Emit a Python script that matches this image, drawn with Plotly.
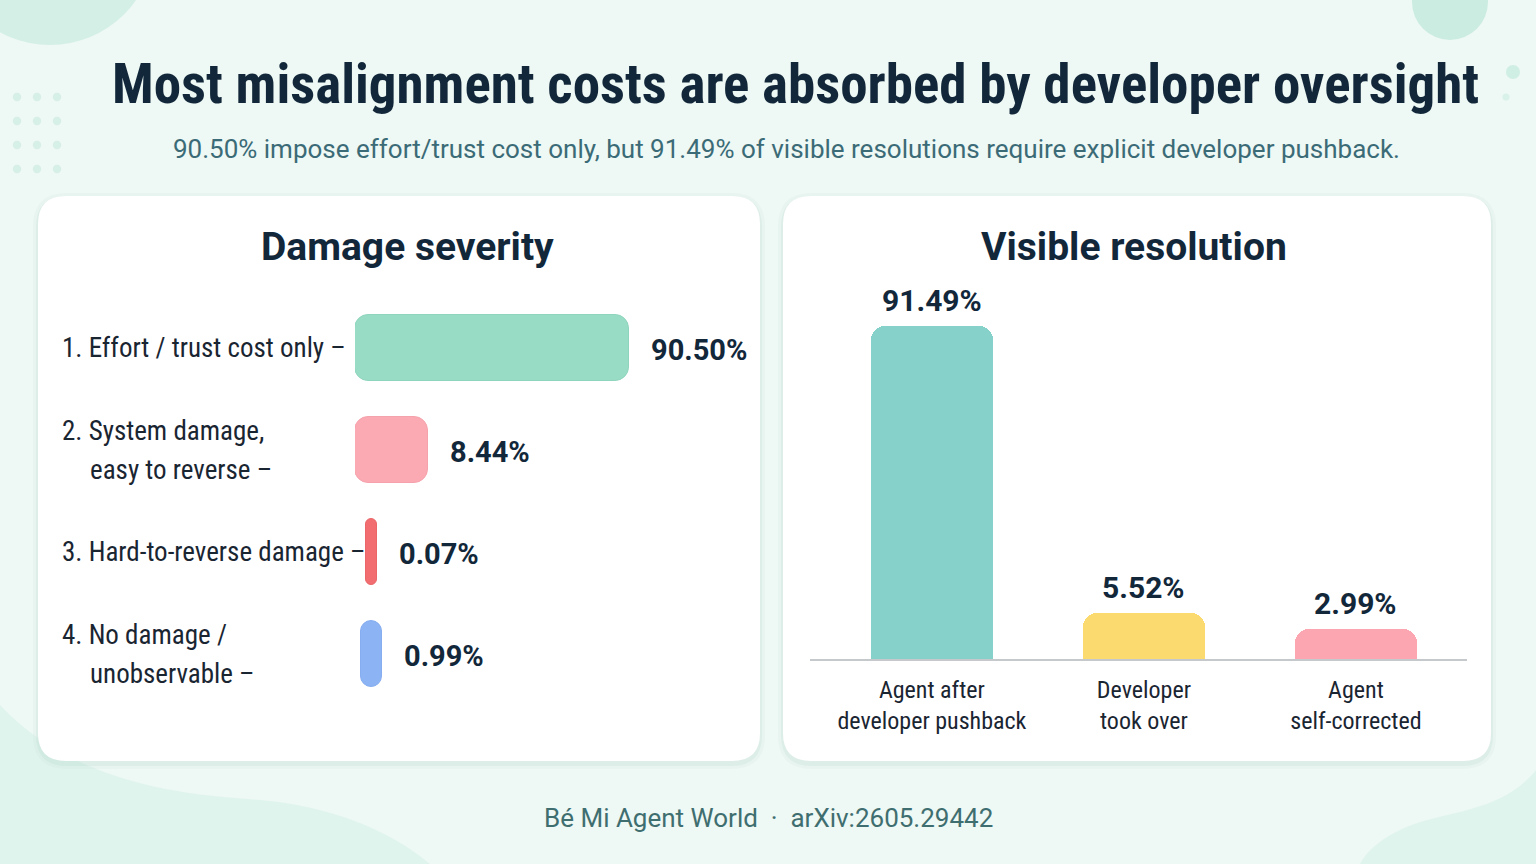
import plotly.graph_objects as go

W, H = 1536, 864

# ---------------- data ----------------
TITLE = "Most misalignment costs are absorbed by developer oversight"
SUBTITLE = ("90.50% impose effort/trust cost only, but 91.49% of visible "
            "resolutions require explicit developer pushback.")
FOOTER = "Bé Mi Agent World  ·  arXiv:2605.29442"
LEFT_TITLE = "Damage severity"
RIGHT_TITLE = "Visible resolution"

severity_labels = [
    ["1. Effort / trust cost only –"],
    ["2. System damage,", "easy to reverse –"],
    ["3. Hard-to-reverse damage –"],
    ["4. No damage /", "unobservable –"],
]
severity_values = [90.50, 8.44, 0.07, 0.99]
severity_colors = ["#99dcc5", "#fbaab4", "#f16d6f", "#8cb3f4"]
severity_edges = ["#8fd5bc", "#f6a2ac", "#ea6668", "#86adf0"]

resolution_labels = ["Agent after<br>developer pushback", "Developer<br>took over", "Agent<br>self-corrected"]
resolution_values = [91.49, 5.52, 2.99]
resolution_colors = ["#86d1ca", "#fbdb6f", "#fba6b1"]

# ---------------- style ----------------
BG = "#eef8f4"
DARK = "#12283a"
TEAL = "#3b6b77"
COND = "Roboto Condensed, Roboto, sans-serif"
REG = "Roboto, Inter, sans-serif"
SEV_EXP, SEV_FLOOR, SEV_SLOT = 0.56, 0.5, 1.5   # compressed display scale, as in the original
RES_EXP = 0.705
XMAX = 17.5


def px(x):
    return x / W


def py(y):
    return 1 - y / H


def rr_path(x0, y0, x1, y1, r):
    rx, ry = r / W, r / H
    X0, X1, Y0, Y1 = px(x0), px(x1), py(y0), py(y1)  # Y0 top, Y1 bottom
    return (f"M {X0+rx},{Y0} L {X1-rx},{Y0} Q {X1},{Y0} {X1},{Y0-ry} "
            f"L {X1},{Y1+ry} Q {X1},{Y1} {X1-rx},{Y1} L {X0+rx},{Y1} "
            f"Q {X0},{Y1} {X0},{Y1+ry} L {X0},{Y0-ry} Q {X0},{Y0} {X0+rx},{Y0} Z")


def circle(cx, cy, r, color):
    return dict(type="circle", xref="paper", yref="paper", layer="below",
                x0=px(cx - r), x1=px(cx + r), y0=py(cy + r), y1=py(cy - r),
                fillcolor=color, line=dict(width=0))


shapes = []
# background decorations
shapes.append(dict(type="path", xref="paper", yref="paper", layer="below",
                   path=f"M 0,{py(705)} C {px(80)},{py(790)} {px(200)},{py(795)} {px(260)},{py(800)} "
                        f"C {px(330)},{py(806)} {px(390)},{py(830)} {px(430)},{py(864)} L 0,0 Z",
                   fillcolor="#e0f4ee", line=dict(width=0)))
shapes.append(dict(type="path", xref="paper", yref="paper", layer="below",
                   path=f"M {px(1536)},{py(770)} C {px(1500)},{py(815)} {px(1440)},{py(810)} {px(1400)},{py(830)} "
                        f"C {px(1375)},{py(842)} {px(1365)},{py(855)} {px(1360)},{py(864)} L 1,0 Z",
                   fillcolor="#e0f4ee", line=dict(width=0)))
shapes.append(circle(50, -60, 105, "#d4efe6"))
shapes.append(circle(1450, 2, 38, "#cbece1"))
shapes.append(circle(1513, 72, 7, "#cfeee4"))
shapes.append(circle(1506, 97, 3.5, "#d8f1e9"))
for gx in (17, 37, 57):
    for gy in (97, 121, 145, 169):
        shapes.append(circle(gx, gy, 4.2, "#d6efe7"))

# panels with a soft shadow
for (x0, x1) in ((38, 760), (783, 1491)):
    for k, a in ((6, 0.05), (3, 0.08)):
        shapes.append(dict(type="path", xref="paper", yref="paper", layer="below",
                           path=rr_path(x0 - k + 1, 196 - k + 3, x1 + k - 1, 761 + k + 2, 28 + k),
                           fillcolor=f"rgba(110,170,155,{a})", line=dict(width=0)))
    shapes.append(dict(type="path", xref="paper", yref="paper", layer="below",
                       path=rr_path(x0, 196, x1, 761, 28),
                       fillcolor="#ffffff", line=dict(width=0)))

fig = go.Figure()

# ---------- left: horizontal pills (floating base -> all corners rounded) ----------
rows = list(range(len(severity_values)))
disp = [max(v ** SEV_EXP, SEV_FLOOR) for v in severity_values]
bases = [max(0.0, (SEV_SLOT - d) / 2) for d in disp]   # tiny pills centred in a minimum slot
fig.add_trace(go.Bar(
    orientation="h", y=rows, x=disp, base=bases, width=0.64,
    marker=dict(color=severity_colors, cornerradius=14, line=dict(width=1, color=severity_edges)),
    xaxis="x", yaxis="y", hoverinfo="skip", showlegend=False))

# ---------- right: vertical bars ----------
cols = list(range(len(resolution_values)))
rdisp = [v ** RES_EXP for v in resolution_values]
fig.add_trace(go.Bar(
    x=cols, y=rdisp, width=0.575,
    marker=dict(color=resolution_colors, cornerradius=14, line=dict(width=0)),
    xaxis="x2", yaxis="y2", hoverinfo="skip", showlegend=False))

ann = []
ann.append(dict(text=f"<b>{TITLE}</b>", x=px(795), y=py(84), font=dict(family=COND, size=55, color=DARK)))
ann.append(dict(text=SUBTITLE, x=px(786), y=py(149), font=dict(family=REG, size=26, color=TEAL)))
ann.append(dict(text=FOOTER, x=px(768), y=py(818), font=dict(family=REG, size=26, color="#3f6e70")))
ann.append(dict(text=f"<b>{LEFT_TITLE}</b>", x=px(407), y=py(247), font=dict(family=REG, size=39, color=DARK)))
ann.append(dict(text=f"<b>{RIGHT_TITLE}</b>", x=px(1134), y=py(247), font=dict(family=REG, size=39, color=DARK)))
for a in ann:
    a.update(xref="paper", yref="paper", showarrow=False, xanchor="center", yanchor="middle")

# left category labels
for r, lines in zip(rows, severity_labels):
    n = len(lines)
    for i, line in enumerate(lines):
        shift = (n - 1) * 19.5 - i * 39
        ann.append(dict(text=line, xref="paper", yref="y", x=px(60 if i == 0 else 88), y=r,
                        yshift=shift, xanchor="left", yanchor="middle", showarrow=False,
                        font=dict(family=COND, size=27, color="#1a2532")))
# left value labels
for r, b, d, v in zip(rows, bases, disp, severity_values):
    ann.append(dict(text=f"<b>{v:.2f}%</b>", xref="x", yref="y", x=b + d, y=r, xshift=20,
                    yshift=-2, xanchor="left", yanchor="middle", showarrow=False,
                    font=dict(family=REG, size=29, color=DARK)))
# right value labels
for c, d, v in zip(cols, rdisp, resolution_values):
    ann.append(dict(text=f"<b>{v:.2f}%</b>", xref="x2", yref="y2", x=c, y=d, yshift=6,
                    xanchor="center", yanchor="bottom", showarrow=False,
                    font=dict(family=REG, size=30, color=DARK)))

fig.update_layout(
    width=W, height=H, autosize=False,
    margin=dict(l=0, r=0, t=0, b=0),
    paper_bgcolor=BG, plot_bgcolor="rgba(0,0,0,0)",
    barmode="overlay", bargap=0,
    shapes=shapes, annotations=ann, showlegend=False,
    xaxis=dict(domain=[px(355), px(740)], range=[0, XMAX], visible=False, fixedrange=True),
    yaxis=dict(domain=[py(705), py(297)], range=[3.5, -0.5], visible=False, fixedrange=True),
    xaxis2=dict(domain=[px(810), px(1467)], range=[-0.575, 2.524], anchor="y2",
                tickvals=cols, ticktext=resolution_labels, showgrid=False, zeroline=False,
                showline=True, linecolor="#c5c9cc", linewidth=2, ticks="outside", ticklen=8,
                tickcolor="rgba(0,0,0,0)", tickfont=dict(family=COND, size=24, color="#1a2532")),
    yaxis2=dict(domain=[py(659), py(280)], range=[0, 27.47], visible=False, anchor="x2"),
)

fig.write_html("out.html", config={"displayModeBar": False})
